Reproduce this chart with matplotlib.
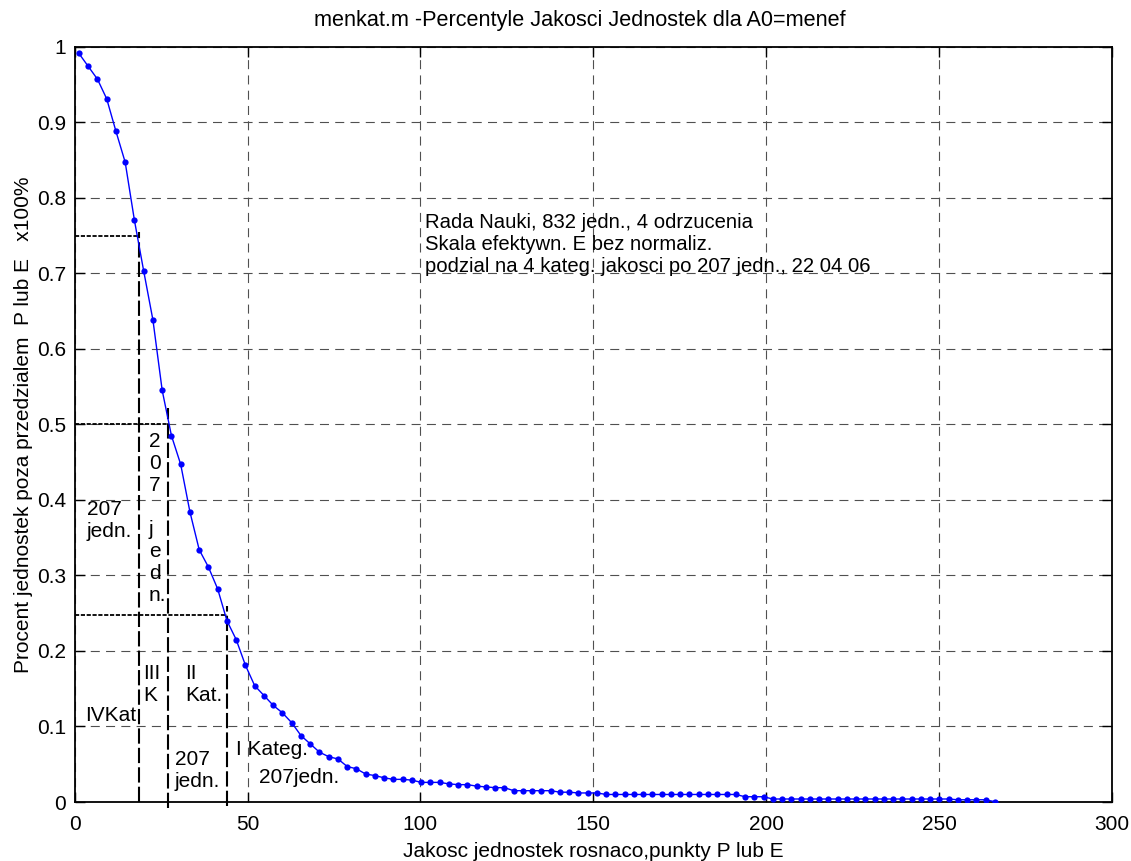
import numpy as np
import matplotlib
matplotlib.use("Agg")
import matplotlib.pyplot as plt

plt.rcParams['font.family'] = ['Liberation Sans', 'DejaVu Sans']
plt.rcParams['lines.scale_dashes'] = False

# quality scale E (evenly sampled) and share of units above each level
e_min, e_max, n_pts = 1.24, 266.1, 100
share = [0.991, 0.974, 0.957, 0.931, 0.888, 0.847, 0.770, 0.703, 0.638, 0.545,
         0.485, 0.447, 0.384, 0.334, 0.311, 0.282, 0.240, 0.215, 0.181, 0.154,
         0.141, 0.128, 0.118, 0.105, 0.088, 0.077, 0.066, 0.060, 0.057, 0.047,
         0.044, 0.037, 0.035, 0.032, 0.030, 0.030, 0.029, 0.026, 0.026, 0.026,
         0.024, 0.023, 0.023, 0.021, 0.020, 0.019, 0.019, 0.015, 0.015, 0.015,
         0.015, 0.015, 0.013, 0.013, 0.012, 0.012, 0.012, 0.010, 0.010, 0.010,
         0.010, 0.010, 0.010, 0.010, 0.010, 0.010, 0.010, 0.010, 0.010, 0.010,
         0.010, 0.010, 0.007, 0.007, 0.007, 0.004, 0.004, 0.004, 0.004, 0.004,
         0.004, 0.004, 0.004, 0.004, 0.004, 0.004, 0.004, 0.004, 0.004, 0.004,
         0.004, 0.004, 0.004, 0.004, 0.004, 0.003, 0.003, 0.003, 0.003, 0.0004]

# category boundaries (207 units each)
cut_level = [0.75, 0.50, 0.247]
cut_e = [18.6, 26.9, 44.1]
cut_top = [0.754, 0.522, 0.260]
cut_bottom = [0.0, -0.008, -0.005]

info = ("Rada Nauki, 832 jedn., 4 odrzucenia\n"
        "Skala efektywn. E bez normaliz.\n"
        "podzial na 4 kateg. jakosci po 207 jedn., 22 04 06")

e = np.linspace(e_min, e_max, n_pts)

fig = plt.figure(figsize=(11.31, 8.61), dpi=100)
ax = fig.add_axes([0.0660, 0.0685, 0.9172, 0.8773])

fs = 15
ax.plot(e, share, '-o', color='#0000ff', lw=1.0, ms=4.5, mew=0, zorder=5)

for lvl, xe, yt, yb in zip(cut_level, cut_e, cut_top, cut_bottom):
    ax.plot([0, xe], [lvl, lvl], color='black', lw=1.3, dashes=(3, 1.2), zorder=4)
    ax.plot([xe, xe], [yb, yt], color='black', lw=1.5, dashes=(11, 3),
            zorder=4, clip_on=False)

ax.text(3.5, 0.3727, "207\njedn.", fontsize=fs, ha='left', va='center')
ax.text(21.5, 0.375, "2\n0\n7\n \nj\ne\nd\nn.", fontsize=fs, ha='left', va='center')
ax.text(19.8, 0.155, "III\nK", fontsize=fs, ha='left', va='center')
ax.text(31.9, 0.156, "II\nKat.", fontsize=fs, ha='left', va='center')
ax.text(3.0, 0.115, "IVKat", fontsize=fs, ha='left', va='center')
ax.text(29.0, 0.0417, "207\njedn.", fontsize=fs, ha='left', va='center')
ax.text(46.8, 0.069, "I Kateg.", fontsize=fs, ha='left', va='center')
ax.text(53.3, 0.033, "207jedn.", fontsize=fs, ha='left', va='center')
ax.text(101.3, 0.7375, info, fontsize=14.6, ha='left', va='center')

ax.set_xlim(0, 300)
ax.set_ylim(0, 1)
ax.set_xticks(np.arange(0, 301, 50))
ax.set_yticks(np.arange(0, 1.01, 0.1))
ax.set_yticklabels(['0', '0.1', '0.2', '0.3', '0.4', '0.5', '0.6', '0.7', '0.8', '0.9', '1'])
ax.grid(True, color='#505050', lw=0.8, dashes=(6.5, 4.5))
ax.tick_params(direction='in', length=7, width=1, labelsize=fs,
               top=True, right=True)
ax.tick_params(axis='x', pad=9)
ax.tick_params(axis='y', pad=6)
for sp in ax.spines.values():
    sp.set_linewidth(1.3)

ax.set_title("menkat.m -Percentyle Jakosci Jednostek dla A0=menef", fontsize=15.6,
             pad=15, x=0.487)
ax.set_xlabel("Jakosc jednostek rosnaco,punkty P lub E", fontsize=fs, labelpad=6)
ax.set_ylabel("Procent jednostek poza przedzialem  P lub E   x100%", fontsize=fs, labelpad=3)

fig.savefig("out.png", dpi=100)
